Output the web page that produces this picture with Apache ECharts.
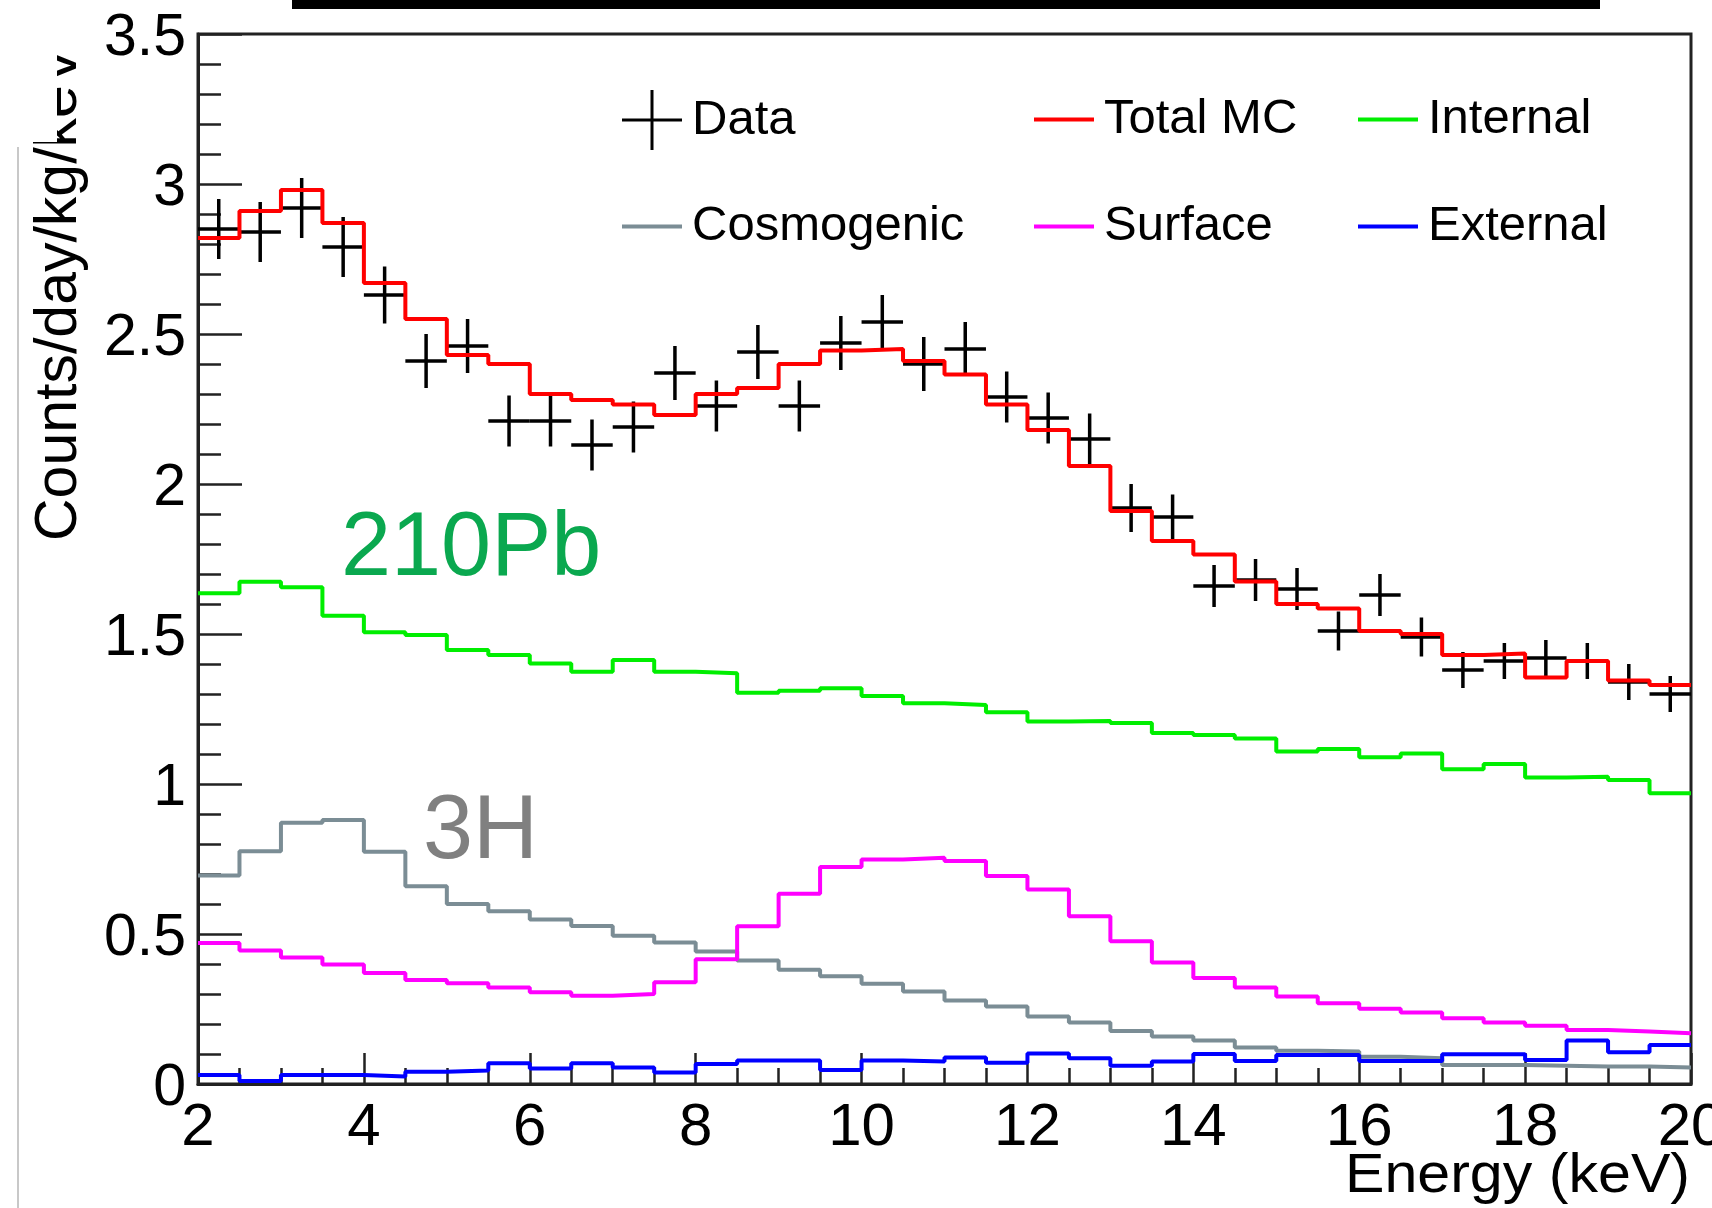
<!DOCTYPE html>
<html>
<head>
<meta charset="utf-8">
<title>Energy spectrum</title>
<script src="https://cdn.jsdelivr.net/npm/echarts@6.0.0/dist/echarts.min.js"></script>
<style>
  html, body { margin: 0; padding: 0; background: #fff; }
  #main { width: 1712px; height: 1208px; }
</style>
</head>
<body>
<div id="main"></div>
<script>
// 0.5 keV bins from 2 to 20 keV
var binEdges = [2, 2.5, 3, 3.5, 4, 4.5, 5, 5.5, 6, 6.5, 7, 7.5, 8, 8.5, 9, 9.5, 10, 10.5, 11, 11.5,
  12, 12.5, 13, 13.5, 14, 14.5, 15, 15.5, 16, 16.5, 17, 17.5, 18, 18.5, 19, 19.5, 20];
var binCenters = [2.25, 2.75, 3.25, 3.75, 4.25, 4.75, 5.25, 5.75, 6.25, 6.75, 7.25, 7.75, 8.25, 8.75,
  9.25, 9.75, 10.25, 10.75, 11.25, 11.75, 12.25, 12.75, 13.25, 13.75, 14.25, 14.75, 15.25, 15.75,
  16.25, 16.75, 17.25, 17.75, 18.25, 18.75, 19.25, 19.75];

var dataVals = [2.85, 2.84, 2.92, 2.79, 2.63, 2.41, 2.46, 2.21, 2.21, 2.13, 2.19, 2.37, 2.26, 2.44,
  2.26, 2.47, 2.54, 2.40, 2.45, 2.29, 2.22, 2.15, 1.92, 1.89, 1.66, 1.68, 1.65, 1.51, 1.63, 1.49,
  1.38, 1.41, 1.42, 1.41, 1.34, 1.30];
var dataErr = [0.1, 0.1, 0.1, 0.1, 0.095, 0.09, 0.09, 0.085, 0.085, 0.085, 0.085, 0.09, 0.085, 0.09,
  0.085, 0.09, 0.09, 0.09, 0.09, 0.085, 0.085, 0.085, 0.08, 0.075, 0.07, 0.07, 0.07, 0.065, 0.07,
  0.065, 0.06, 0.06, 0.06, 0.06, 0.06, 0.06];

var totalMC = [2.82, 2.91, 2.98, 2.87, 2.67, 2.55, 2.43, 2.40, 2.30, 2.28, 2.265, 2.23, 2.30, 2.32,
  2.40, 2.445, 2.45, 2.41, 2.365, 2.265, 2.18, 2.06, 1.91, 1.81, 1.765, 1.675, 1.60, 1.585, 1.51,
  1.50, 1.43, 1.435, 1.355, 1.41, 1.345, 1.33];
var internal = [1.636, 1.674, 1.656, 1.561, 1.506, 1.497, 1.447, 1.43, 1.402, 1.374, 1.413, 1.374,
  1.369, 1.304, 1.311, 1.319, 1.293, 1.269, 1.263, 1.239, 1.208, 1.21, 1.203, 1.17, 1.163, 1.152,
  1.108, 1.117, 1.089, 1.102, 1.049, 1.067, 1.022, 1.024, 1.013, 0.969];
var cosmogenic = [0.695, 0.776, 0.871, 0.88, 0.774, 0.659, 0.60, 0.576, 0.548, 0.527, 0.494, 0.472,
  0.442, 0.412, 0.381, 0.359, 0.334, 0.308, 0.278, 0.258, 0.225, 0.205, 0.177, 0.158, 0.145, 0.122,
  0.111, 0.108, 0.091, 0.086, 0.063, 0.063, 0.061, 0.058, 0.058, 0.055];
var surface = [0.47, 0.445, 0.422, 0.398, 0.37, 0.347, 0.336, 0.322, 0.306, 0.294, 0.30, 0.339,
  0.416, 0.526, 0.634, 0.723, 0.748, 0.754, 0.743, 0.693, 0.648, 0.559, 0.476, 0.405, 0.353, 0.322,
  0.292, 0.269, 0.251, 0.238, 0.219, 0.205, 0.194, 0.18, 0.175, 0.169];
var external = [0.03, 0.01, 0.03, 0.03, 0.025, 0.041, 0.045, 0.069, 0.052, 0.069, 0.055, 0.038,
  0.067, 0.078, 0.078, 0.047, 0.078, 0.075, 0.088, 0.071, 0.102, 0.086, 0.061, 0.075, 0.10, 0.077,
  0.097, 0.097, 0.077, 0.077, 0.099, 0.099, 0.08, 0.145, 0.106, 0.13];

var yTicks = [0, 0.5, 1, 1.5, 2, 2.5, 3, 3.5];
var xTicks = [2, 4, 6, 8, 10, 12, 14, 16, 18, 20];

var FONT = '"Liberation Sans", Arial, Helvetica, sans-serif';

// histogram steps: one point per bin edge, last edge repeats the last bin
function histData(vals) {
  return binEdges.map(function (e, i) {
    return [e, vals[Math.min(i, vals.length - 1)]];
  });
}

function histSeries(name, vals, color) {
  return {
    name: name,
    type: 'line',
    step: 'end',
    symbol: 'none',
    data: histData(vals),
    lineStyle: { color: color, width: 4 },
    itemStyle: { color: color },
    z: 3
  };
}

function renderCross(params, api) {
  var x = api.value(0), y = api.value(1), e = api.value(2);
  var l = api.coord([x - 0.25, y]);
  var r = api.coord([x + 0.25, y]);
  var t = api.coord([x, y + e]);
  var b = api.coord([x, y - e]);
  var st = { stroke: '#000', lineWidth: 3.5 };
  return {
    type: 'group',
    children: [
      { type: 'line', shape: { x1: l[0], y1: l[1], x2: r[0], y2: r[1] }, style: st },
      { type: 'line', shape: { x1: t[0], y1: t[1], x2: b[0], y2: b[1] }, style: st }
    ]
  };
}

var crossIcon = 'path://M0,47.5 L100,47.5 L100,52.5 L0,52.5 Z M47.5,0 L52.5,0 L52.5,100 L47.5,100 Z';
var barIcon = 'path://M0,46.5 L100,46.5 L100,53.5 L0,53.5 Z';

var myChart = echarts.init(document.getElementById('main'), null, { renderer: 'canvas' });

// one legend box per entry so each lands where the reference has it
function legendItem(name, icon, left, top) {
  return {
    orient: 'vertical',
    left: left,
    top: top,
    padding: 0,
    itemWidth: 60,
    itemHeight: 62,
    data: [{ name: name, icon: icon }],
    selectedMode: false,
    textStyle: { fontSize: 49, color: '#000', fontFamily: FONT, padding: [0, 0, 0, 5] }
  };
}

var option = {
  animation: false,
  backgroundColor: '#fff',
  grid: {
    left: 198, top: 34, right: 21, bottom: 124,
    show: true, borderColor: '#222', borderWidth: 3,
    outerBoundsMode: 'none',
    containLabel: false
  },
  legend: [
    legendItem('Data', crossIcon, 622, 90),
    legendItem('Cosmogenic', barIcon, 622, 202),
    legendItem('Total MC', barIcon, 1034, 95),
    legendItem('Surface', barIcon, 1034, 202),
    legendItem('Internal', barIcon, 1358, 95),
    legendItem('External', barIcon, 1358, 202)
  ],
  xAxis: {
    type: 'value',
    min: xTicks[0],
    max: xTicks[xTicks.length - 1],
    interval: 2,
    axisLine: { show: true, onZero: false, lineStyle: { color: '#222', width: 3 } },
    axisTick: { show: true, inside: true, length: 31, lineStyle: { color: '#222', width: 2.5 } },
    minorTick: { show: true, splitNumber: 4, length: 16, lineStyle: { color: '#222', width: 2.5 } },
    axisLabel: { fontSize: 60, color: '#000', margin: 14, fontFamily: FONT },
    splitLine: { show: false },
    minorSplitLine: { show: false }
  },
  yAxis: {
    type: 'value',
    min: yTicks[0],
    max: yTicks[yTicks.length - 1],
    interval: 0.5,
    axisLine: { show: true, onZero: false, lineStyle: { color: '#222', width: 3 } },
    axisTick: { show: true, inside: true, length: 44, lineStyle: { color: '#222', width: 2.5 } },
    minorTick: { show: true, splitNumber: 5, length: 23, lineStyle: { color: '#222', width: 2.5 } },
    axisLabel: {
      margin: 12,
      formatter: function (v) { return '{t|' + v + '}'; },
      rich: { t: { fontSize: 59, color: '#000', fontFamily: FONT, padding: [10, 0, 0, 0] } }
    },
    splitLine: { show: false },
    minorSplitLine: { show: false }
  },
  series: [
    {
      name: 'Data',
      type: 'custom',
      renderItem: renderCross,
      data: binCenters.map(function (c, i) { return [c, dataVals[i], dataErr[i]]; }),
      encode: { x: 0, y: 1 },
      itemStyle: { color: '#000' },
      z: 2
    },
    histSeries('Total MC', totalMC, '#ff0000'),
    histSeries('Internal', internal, '#00ee00'),
    histSeries('Cosmogenic', cosmogenic, '#7b8d95'),
    histSeries('Surface', surface, '#ff00ff'),
    histSeries('External', external, '#0000ff')
  ],
  graphic: [
    { type: 'rect', shape: { x: 292, y: 0, width: 1308, height: 9 }, style: { fill: '#000' }, z: 20 },
    { type: 'line', shape: { x1: 18, y1: 147, x2: 18, y2: 1208 }, style: { stroke: '#c8c8c8', lineWidth: 2 }, z: 20 },
    {
      type: 'text', x: 60, y: 541, rotation: Math.PI / 2, z: 20,
      style: { text: 'Counts/day/kg/keV', fontSize: 59, fontFamily: FONT, fill: '#000', align: 'left', verticalAlign: 'middle' }
    },
    { type: 'rect', shape: { x: 0, y: 0, width: 57, height: 142 }, style: { fill: '#fff' }, z: 30 },
    {
      type: 'text', x: 341, y: 550, z: 20,
      style: { text: '210Pb', fontSize: 90, fontFamily: FONT, fill: '#0aa84f', align: 'left', verticalAlign: 'middle' }
    },
    {
      type: 'text', x: 423, y: 833, z: 20,
      style: { text: '3H', fontSize: 90, fontFamily: FONT, fill: '#808080', align: 'left', verticalAlign: 'middle' }
    },
    {
      type: 'text', x: 1690, y: 1177, z: 20, scaleX: 1.075, originX: 0, originY: 0,
      style: { text: 'Energy (keV)', fontSize: 55, fontFamily: FONT, fill: '#000', align: 'right', verticalAlign: 'middle' }
    }
  ]
};

myChart.setOption(option);
</script>
</body>
</html>
